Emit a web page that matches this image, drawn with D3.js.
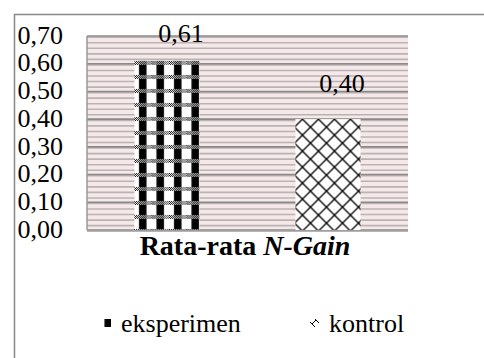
<!DOCTYPE html>
<html><head><meta charset="utf-8">
<script src="https://cdn.jsdelivr.net/npm/d3@7"></script>
<style>
body{margin:0;background:#fff}
#wrap{position:relative;width:484px;height:358px;overflow:hidden}
svg{display:block;position:absolute;left:0;top:0}
.lbl{position:absolute;white-space:nowrap;line-height:0;font-family:"Liberation Serif","Times New Roman",serif;color:#000}
</style>
</head><body><div id="wrap"><svg id="c" width="484" height="358"></svg></div>
<script>
const categories = ["Rata-rata N-Gain"];
const seriesNames = ["eksperimen", "kontrol"];
const seriesValues = [0.61, 0.40];
const valueLabels = ["0,61", "0,40"];
const yTicks = [0, 0.1, 0.2, 0.3, 0.4, 0.5, 0.6, 0.7];
const yTickLabels = ["0,00","0,10","0,20","0,30","0,40","0,50","0,60","0,70"];
const minorTicks = d3.range(0, 36).map(i => i * 0.02);

(function(){
const wrap = d3.select("#wrap");
const svg = d3.select("#c");
const defs = svg.append("defs");
const pl = 87, pr = 408, pt = 36, pb = 230;
const y = d3.scaleLinear().domain([0, 0.7]).range([pb, pt]);
const x0 = d3.scaleBand().domain(categories).range([pl, pr]);
const x1 = d3.scaleBand().domain(seriesNames).range([0, x0.bandwidth()]).paddingInner(0.596).paddingOuter(0.295);
const bx = i => x0(categories[0]) + x1(seriesNames[i]);

// text helper: baseline at (x, base); anchor: 0 start, 0.5 middle, 1 end
function label(x, base, anchor, html, size, extra) {
  const d = wrap.append("div").attr("class","lbl")
    .style("font-size", size + "px")
    .style("left", x + "px").style("top", (base - 0.3375 * size) + "px")
    .style("transform", `translateX(${-anchor*100}%)`).html(html);
  if (extra) extra(d);
  return d;
}

const p1 = defs.append("pattern").attr("id","p1").attr("patternUnits","userSpaceOnUse")
  .attr("width",17.5).attr("height",14).attr("x",bx(0)).attr("y",y(seriesValues[0]));
p1.append("rect").attr("width",17.5).attr("height",14).attr("fill","#fff");
p1.append("rect").attr("x",5).attr("y",0).attr("width",7.5).attr("height",14).attr("fill","#000");
for (let i=0;i<18;i++) for (let j=0;j<4;j++)
  p1.append("rect").attr("x",i).attr("y",j).attr("width",1).attr("height",1).attr("fill",(i+j)%2===0?"#000":"#fff");
const p2 = defs.append("pattern").attr("id","p2").attr("patternUnits","userSpaceOnUse")
  .attr("width",16).attr("height",16).attr("x",bx(1)).attr("y",y(seriesValues[1]));
p2.append("rect").attr("width",16).attr("height",16).attr("fill","#fff");
p2.append("path").attr("d","M0,0L16,16M16,0L0,16").attr("stroke","#000").attr("stroke-width",1.3);
const p3 = defs.append("pattern").attr("id","p3").attr("patternUnits","userSpaceOnUse")
  .attr("width",8).attr("height",8);
p3.append("rect").attr("width",8).attr("height",8).attr("fill","#fff");
p3.append("path").attr("d","M0,4L4,0L8,4M0,4L4,8").attr("stroke","#000").attr("stroke-width",1).attr("fill","none");

svg.append("rect").attr("x",14.5).attr("y",14.5).attr("width",480).attr("height",360)
  .attr("fill","#fff").attr("stroke","#888").attr("stroke-width",1.5);

svg.append("rect").attr("x",pl).attr("y",pt).attr("width",pr-pl).attr("height",pb-pt).attr("fill","#f4e8e8");
svg.append("g").selectAll("line").data(minorTicks).join("line")
  .attr("x1",pl).attr("x2",pr).attr("y1",d=>y(d)+1.2).attr("y2",d=>y(d)+1.2)
  .attr("stroke","#bbb3b3").attr("stroke-width",1.6);
svg.append("g").selectAll("line").data(yTicks).join("line")
  .attr("x1",pl).attr("x2",pr).attr("y1",d=>y(d)).attr("y2",d=>y(d))
  .attr("stroke","#8a8a8a").attr("stroke-width",1.6);
svg.append("line").attr("x1",pl).attr("x2",pl).attr("y1",pt).attr("y2",pb).attr("stroke","#999").attr("stroke-width",1.5);

const fills = ["url(#p1)","url(#p2)"];
const bars = svg.append("g").attr("transform",`translate(${x0(categories[0])},0)`);
bars.selectAll("rect").data(seriesValues).join("rect")
  .attr("x",(d,i)=>x1(seriesNames[i])).attr("width",x1.bandwidth())
  .attr("y",d=>y(d)).attr("height",d=>y(0)-y(d)).attr("fill",(d,i)=>fills[i]);

const labelDy = [-18, -26];
seriesValues.forEach((v,i) => label(bx(i) + x1.bandwidth()/2 + 14, y(v) + labelDy[i], 0.5, valueLabels[i], 26));
yTicks.forEach((v,i) => label(63, y(v) + 8.5, 1, yTickLabels[i], 26));
label(245, 255, 0.5, "Rata-rata <i>N-Gain</i>", 28, d => d.style("font-weight","bold"));

const legX = [102, 310];
const lfills = ["url(#p1)","url(#p3)"];
svg.append("g").selectAll("rect").data(seriesNames).join("rect")
  .attr("x",(d,i)=>legX[i]).attr("y",319).attr("width",9).attr("height",8).attr("fill",(d,i)=>lfills[i]);
seriesNames.forEach((s,i) => label(legX[i] + 19, 333, 0, s, 26));
})();
</script></body></html>
